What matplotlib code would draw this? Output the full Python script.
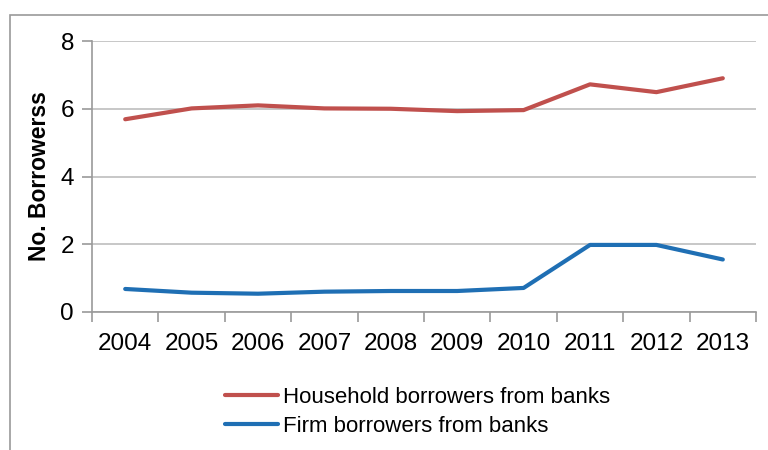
import matplotlib.pyplot as plt
from matplotlib.patches import Rectangle

plt.rcParams['font.family'] = ['Liberation Sans', 'DejaVu Sans']

years = ['2004', '2005', '2006', '2007', '2008', '2009', '2010', '2011', '2012', '2013']
household = [5.69, 6.01, 6.10, 6.01, 6.00, 5.93, 5.96, 6.72, 6.49, 6.90]
firm = [0.68, 0.57, 0.54, 0.60, 0.62, 0.62, 0.71, 1.98, 1.98, 1.55]

fig = plt.figure(figsize=(7.68, 4.5), dpi=100)
fig.patch.set_facecolor('white')

# outer chart frame (only left and top edges are visible)
fig.add_artist(Rectangle((10 / 768, -0.5), 2, 1.5 - 15 / 450, transform=fig.transFigure,
                         fill=False, edgecolor='#9a9a9a', linewidth=1.2))

ax = fig.add_axes([92 / 768, 1 - 312 / 450, (756 - 92) / 768, (312 - 41) / 450])
x = list(range(len(years)))
l1, = ax.plot(x, household, color='#C0504D', linewidth=3, solid_capstyle='round')
l2, = ax.plot(x, firm, color='#1F6FB4', linewidth=3, solid_capstyle='round')

ax.set_ylim(0, 8)
ax.set_yticks([0, 2, 4, 6, 8])
ax.set_xlim(-0.5, len(years) - 0.5)
ax.set_xticks([i - 0.5 for i in range(len(years) + 1)])
ax.set_xticklabels([])
ax.set_xticks(x, minor=True)
ax.set_xticklabels(years, minor=True)
ax.tick_params(axis='x', which='minor', length=0, labelsize=17.5, pad=15)
ax.tick_params(axis='x', which='major', length=7, color='#9a9a9a', width=1.2)
ax.tick_params(axis='y', length=7, color='#9a9a9a', width=1.2, labelsize=17.5, pad=6)

ax.grid(axis='y', color='#bdbdbd', linewidth=1.2)
ax.set_axisbelow(True)
for s in ['top', 'right']:
    ax.spines[s].set_visible(False)
for s in ['left', 'bottom']:
    ax.spines[s].set_color('#9a9a9a')
    ax.spines[s].set_linewidth(1.2)

ax.set_ylabel('No. Borrowerss', fontsize=16.5, fontweight='bold', labelpad=7)

fig.legend([l1, l2], ['Household borrowers from banks', 'Firm borrowers from banks'],
           loc='upper left', bbox_to_anchor=(214 / 768, 1 - 376 / 450), frameon=False,
           fontsize=16, handlelength=2.4, handletextpad=0.2, labelspacing=0.35,
           borderpad=0)

fig.savefig('out.png', dpi=100)
